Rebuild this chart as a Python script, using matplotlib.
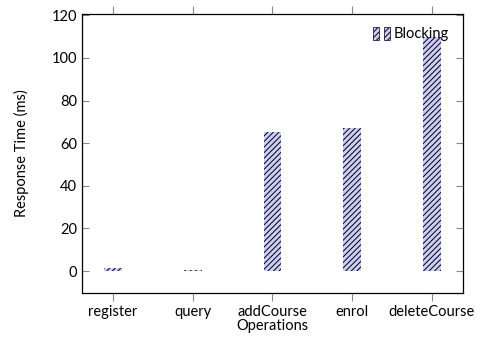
import matplotlib.pyplot as plt
from matplotlib.legend_handler import HandlerTuple
from matplotlib.patches import Rectangle

plt.rcParams['font.family'] = ['Lato', 'DejaVu Sans']
plt.rcParams['hatch.linewidth'] = 0.7

operations = ["register", "query", "addCourse", "enrol", "deleteCourse"]
blocking = [1.5, 0.5, 65, 67, 110]
y_ticks = [0, 20, 40, 60, 80, 100, 120]

fig = plt.figure(figsize=(4.81, 3.44), dpi=100)
ax = fig.add_axes([0.1705, 0.1483, 0.792, 0.811])

x = range(len(operations))
ax.bar(x, blocking, width=0.22, color='#ccccff', edgecolor='black',
       linewidth=0, hatch='//////')

ax.set_xlim(-0.39, len(operations) - 1 + 0.39)
ax.set_ylim(-10.3, 120.6)
ax.set_xticks(list(x))
ax.set_xticklabels(operations)
ax.set_yticks(y_ticks)

ax.tick_params(axis='x', direction='out', length=5.5, color='#888888',
               top=True, labelsize=10.5, pad=3)
ax.tick_params(axis='y', direction='in', length=5, color='#888888',
               right=True, labelsize=10.5)
for s in ax.spines.values():
    s.set_linewidth(0.9)

ax.set_xlabel("Operations", fontsize=10.5, labelpad=0)
ax.set_ylabel("Response Time (ms)", fontsize=10.5, labelpad=16)

# legend: two small hatched boxes like pgfplots ybar legend
h1 = Rectangle((0, 0), 1, 1, facecolor='#ccccff', edgecolor='black',
               linewidth=0.5, hatch='//////')
h2 = Rectangle((0, 0), 1, 1, facecolor='#ccccff', edgecolor='black',
               linewidth=0.5, hatch='//////')
ax.legend([(h1, h2)], ["Blocking"], handler_map={tuple: HandlerTuple(ndivide=None, pad=0.3)},
          loc='upper right', frameon=False, fontsize=10.5, handlelength=1.2,
          handleheight=1.0, handletextpad=0.2, borderaxespad=0.2,
          bbox_to_anchor=(0.985, 0.985))

fig.savefig("out.png", dpi=100)
